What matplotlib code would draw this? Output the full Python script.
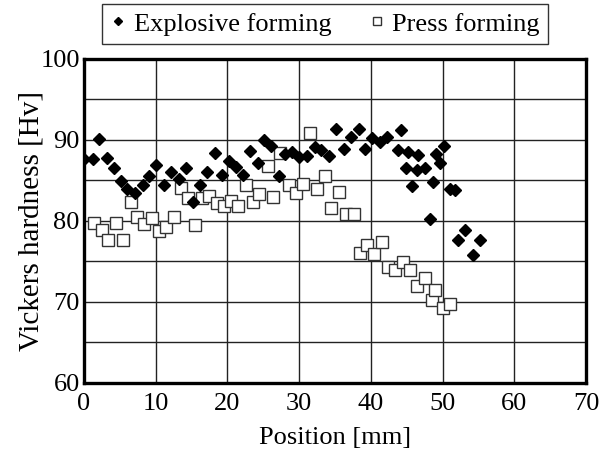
import numpy as np
import matplotlib
matplotlib.use('Agg')
import matplotlib.pyplot as plt

plt.rcParams['font.family'] = ['Liberation Serif', 'DejaVu Serif']

# Explosive forming measurements (position [mm], hardness [Hv])
explosive_x = [0.0, 1.2, 2.1, 3.2, 4.2, 5.1, 6.0, 7.1, 8.2, 9.1, 10.1, 11.2,
               12.2, 13.2, 14.2, 15.2, 16.2, 17.2, 18.2, 19.2, 20.2, 21.2,
               22.2, 23.2, 24.2, 25.1, 26.1, 27.2, 28.0, 29.0, 30.0, 31.1,
               32.2, 33.1, 34.2, 35.2, 36.3, 37.2, 38.3, 39.2, 40.2, 41.3,
               42.3, 43.8, 44.2, 44.9, 45.2, 45.7, 46.4, 46.6, 47.6, 48.3,
               48.7, 49.1, 49.7, 50.2, 51.0, 51.7, 52.1, 53.2, 54.2, 55.2]
explosive_hv = [87.6, 87.6, 90.1, 87.8, 86.5, 84.9, 83.9, 83.4, 84.4, 85.6,
                86.9, 84.5, 86.0, 85.2, 86.5, 82.3, 84.4, 86.0, 88.4, 85.7,
                87.4, 86.7, 85.7, 88.6, 87.1, 90.0, 89.2, 85.5, 88.3, 88.5,
                87.9, 88.0, 89.1, 88.7, 88.0, 91.3, 88.9, 90.4, 91.3, 88.9,
                90.2, 89.7, 90.4, 88.7, 91.2, 86.5, 88.5, 84.3, 86.3, 88.2,
                86.5, 80.3, 84.8, 88.3, 87.1, 89.3, 84.0, 83.8, 77.7, 78.9,
                75.8, 77.6]

# Press forming measurements
press_x = [1.4, 2.5, 3.4, 4.5, 5.5, 6.5, 7.4, 8.4, 9.5, 10.5, 11.4, 12.5,
           13.5, 14.5, 15.5, 16.5, 17.5, 18.5, 19.5, 20.5, 21.5, 22.6, 23.5,
           24.4, 25.6, 26.3, 27.4, 28.6, 29.6, 30.5, 31.5, 32.5, 33.6, 34.4,
           35.5, 36.5, 37.6, 38.5, 39.5, 40.4, 41.6, 42.4, 43.4, 44.5, 45.5,
           46.5, 47.5, 48.5, 49.0, 50.0, 51.0]
press_hv = [79.8, 78.9, 77.7, 79.8, 77.7, 82.4, 80.5, 79.6, 80.4, 78.7, 79.3,
            80.5, 84.1, 82.8, 79.5, 82.8, 83.1, 82.2, 81.8, 82.5, 81.8, 84.5,
            82.4, 83.3, 86.8, 82.9, 88.4, 84.4, 83.5, 84.6, 90.9, 83.9, 85.5,
            81.6, 83.6, 80.8, 80.9, 76.0, 77.0, 75.9, 77.4, 74.3, 73.9, 74.9,
            73.9, 72.0, 72.9, 70.2, 71.5, 69.2, 69.8]

x_ticks = [0, 10, 20, 30, 40, 50, 60, 70]
y_ticks = [60, 65, 70, 75, 80, 85, 90, 95, 100]
y_tick_labels = ['60', '', '70', '', '80', '', '90', '', '100']

fig = plt.figure(figsize=(6.11, 4.59), dpi=100)
ax = fig.add_axes([0.1375, 0.1656, 0.8215, 0.706])

ax.plot(press_x, press_hv, linestyle='none', marker='s', markersize=9,
        markerfacecolor='white', markeredgecolor='#333333',
        markeredgewidth=1.0, label='Press forming', zorder=3)
ax.plot(explosive_x, explosive_hv, linestyle='none', marker='D',
        markersize=6.3, color='black', label='Explosive forming', zorder=4)

ax.set_xlim(0, 70)
ax.set_ylim(60, 100)
ax.set_xticks(x_ticks)
ax.set_yticks(y_ticks)
ax.set_yticklabels(y_tick_labels)
ax.tick_params(length=0, labelsize=19)
ax.tick_params(axis='x', pad=7)
ax.tick_params(axis='y', pad=3)
ax.grid(True, color='#222222', linewidth=1.0, zorder=1)
ax.set_axisbelow(True)
for s in ax.spines.values():
    s.set_linewidth(2.4)

ax.set_xlabel('Position [mm]', fontsize=19, labelpad=9)
ax.set_ylabel('Vickers hardness [Hv]', fontsize=21, labelpad=-3)

handles, labels = ax.get_legend_handles_labels()
leg = fig.legend(handles[::-1], labels[::-1], loc='center',
                 bbox_to_anchor=(0.532, 0.948), ncol=2, fontsize=19,
                 frameon=True, fancybox=False, edgecolor='black',
                 markerscale=0.7, handlelength=0.6, handletextpad=0.3,
                 columnspacing=1.4, borderpad=0.3)
leg.get_frame().set_linewidth(1.0)

fig.savefig('out.png', dpi=100)
